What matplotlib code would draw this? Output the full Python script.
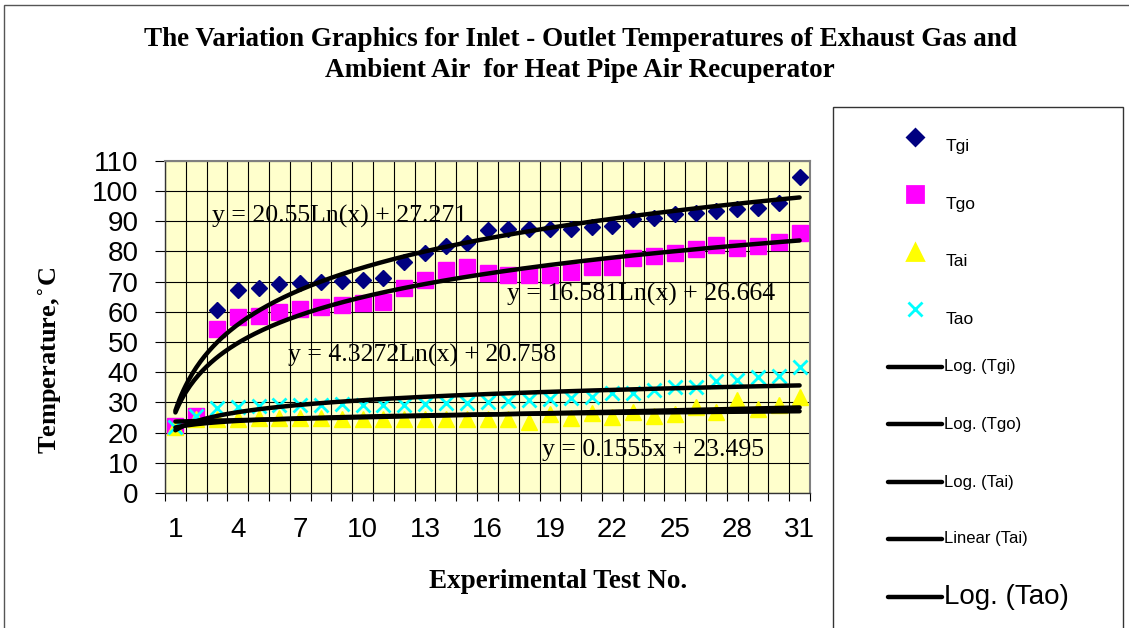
import numpy as np
import matplotlib
matplotlib.use("Agg")
import matplotlib.pyplot as plt
from matplotlib.lines import Line2D
from matplotlib.patches import Rectangle

# Test numbers and measured temperatures (C)
tests = list(range(1, 32))
tgi = [22.0, 25.0, 60.6, 67.2, 67.8, 69.2, 69.6, 69.9, 70.3, 70.5, 71.2, 76.5, 79.3, 81.9, 82.9, 87.2,
       87.3, 87.4, 87.5, 87.4, 88.2, 88.4, 90.8, 91.0, 92.2, 92.8, 93.3, 94.1, 94.5, 95.9, 104.5]
tgo = [22.3, 25.5, 54.2, 58.2, 58.7, 60.0, 60.8, 61.5, 62.3, 63.0, 63.3, 67.8, 70.5, 73.8, 74.9, 72.9,
       72.2, 72.0, 72.2, 73.3, 74.8, 74.9, 77.7, 78.3, 79.6, 80.7, 82.1, 81.0, 81.8, 83.2, 86.2]
tai = [22.0, 24.5, 24.5, 24.6, 24.8, 24.8, 24.8, 24.7, 24.6, 24.5, 24.4, 24.4, 24.5, 24.6, 24.4, 24.4,
       24.5, 23.6, 26.1, 24.7, 26.4, 25.3, 26.7, 25.5, 26.2, 28.6, 26.9, 30.9, 27.7, 29.1, 31.9]
tao = [22.0, 25.5, 28.0, 28.6, 28.9, 29.1, 29.1, 29.2, 29.4, 29.2, 29.1, 29.1, 29.5, 29.7, 29.9, 30.1,
       30.5, 30.8, 31.0, 31.6, 31.9, 33.0, 33.0, 34.1, 35.0, 35.0, 37.2, 37.4, 38.3, 38.7, 41.8]

# Trendline equations shown on the chart
log_tgi = (20.55, 27.271)
log_tgo = (16.581, 26.664)
log_tao = (4.3272, 20.758)
lin_tai = (0.1555, 23.495)

title = ("The Variation Graphics for Inlet - Outlet Temperatures of Exhaust Gas and\n"
         "Ambient Air  for Heat Pipe Air Recuperator")

W, H = 1129, 628
fig = plt.figure(figsize=(W / 100, H / 100), dpi=100)
fig.patch.set_facecolor("white")

def px(x, y):
    # pixel position -> figure fraction
    return x / W, 1 - y / H

ax = fig.add_axes([165 / W, 1 - 493 / H, (810 - 165) / W, (493 - 160.7) / H])
ax.set_facecolor("#FFFFCC")

x = np.array(tests, dtype=float)
ax.plot(x, tgi, ls="none", marker="D", ms=8, color="#000080", zorder=3)
ax.plot(x, tgo, ls="none", marker="s", ms=11, color="#FF00FF", zorder=3)
ax.plot(x, tai, ls="none", marker="^", ms=11, color="#FFFF00", zorder=3)
ax.plot(x, tao, ls="none", marker="x", ms=10, mew=2, color="#00FFFF", zorder=3)

# trendlines
xs = np.linspace(1, 31, 300)
fit_tai = np.polyfit(np.log(x), tai, 1)
trend_kw = dict(color="black", lw=3.2, solid_capstyle="round", zorder=4)
ax.plot(xs, log_tgi[0] * np.log(xs) + log_tgi[1], **trend_kw)
ax.plot(xs, log_tgo[0] * np.log(xs) + log_tgo[1], **trend_kw)
ax.plot(xs, fit_tai[0] * np.log(xs) + fit_tai[1], **trend_kw)
ax.plot(xs, lin_tai[0] * xs + lin_tai[1], **trend_kw)
ax.plot(xs, log_tao[0] * np.log(xs) + log_tao[1], **trend_kw)

eq_kw = dict(family="Liberation Serif", fontsize=18.5, ha="left", va="center", zorder=5)
ax.text(2.75, 91.7, f"y = {log_tgi[0]:g}Ln(x) + {log_tgi[1]:g}", **eq_kw)
ax.text(16.96, 65.6, f"y = {log_tgo[0]:g}Ln(x) + {log_tgo[1]:g}", **eq_kw)
ax.text(6.43, 45.4, f"y = {log_tao[0]:g}Ln(x) + {log_tao[1]:g}", **eq_kw)
ax.text(18.6, 14.2, f"y = {lin_tai[0]:g}x + {lin_tai[1]:g}", **eq_kw)

# axes
ax.set_xlim(0.5, 31.5)
ax.set_ylim(0, 110)
ax.set_yticks(range(0, 111, 10))
ax.set_xticks(tests[::3])
ax.set_xticks(np.arange(0.5, 32, 1), minor=True)
ax.grid(axis="y", which="major", color="black", lw=0.8)
ax.grid(axis="x", which="minor", color="black", lw=0.8)
ax.set_axisbelow(True)
ax.tick_params(axis="x", which="major", length=0, pad=17, labelsize=20)
ax.tick_params(axis="x", which="minor", length=6, width=0.8, direction="out")
ax.tick_params(axis="y", length=7, width=0.8, direction="out", labelsize=20, pad=12)
for lab in ax.get_xticklabels() + ax.get_yticklabels():
    lab.set_family("Liberation Sans")
for side in ("top", "right"):
    ax.spines[side].set_color("#808080")
    ax.spines[side].set_linewidth(1.5)
for side in ("left", "bottom"):
    ax.spines[side].set_color("#333333")
    ax.spines[side].set_linewidth(1)

# titles
fig.text(*px(580, 55), title, ha="center", va="center", family="Liberation Serif",
         weight="bold", fontsize=19.5, linespacing=1.3)
fig.text(*px(50, 360), "Temperature,$^{\\circ}$C", rotation=90, ha="center", va="center",
         family="Liberation Serif", weight="bold", fontsize=19)
fig.text(*px(558, 582), "Experimental Test No.", ha="center", va="center",
         family="Liberation Serif", weight="bold", fontsize=19.5)

# outer border and legend box
fig.patches.append(Rectangle(px(4, 640), 1140 / W, 635 / H, transform=fig.transFigure,
                             fill=False, ec="#555555", lw=1))
fig.patches.append(Rectangle(px(833, 640), (1123 - 833) / W, (640 - 107) / H,
                             transform=fig.transFigure, fill=False, ec="#333333", lw=1))

# legend entries
marker_entries = [
    ("Tgi", "D", 8, "#000080", 137, 147),
    ("Tgo", "s", 11, "#FF00FF", 194, 205),
    ("Tai", "^", 11, "#FFFF00", 252, 262),
    ("Tao", "x", 10, "#00FFFF", 309, 320),
]
for name, mk, ms, col, my, ty in marker_entries:
    mx, myf = px(915, my)
    fig.lines.append(Line2D([mx], [myf], marker=mk, ms=ms, mew=2, color=col, ls="none",
                            transform=fig.transFigure))
    fig.text(*px(946, ty), name, ha="left", va="center", family="Liberation Sans", fontsize=12.5)

line_entries = [
    ("Log. (Tgi)", 367, 12),
    ("Log. (Tgo)", 424, 12),
    ("Log. (Tai)", 482, 12),
    ("Linear (Tai)", 539, 12),
    ("Log. (Tao)", 597, 20),
]
for name, ly, fs in line_entries:
    x0, yf = px(888, ly)
    x1, _ = px(942, ly)
    fig.lines.append(Line2D([x0, x1], [yf, yf], color="black", lw=3.2, solid_capstyle="round",
                            transform=fig.transFigure))
    fig.text(*px(944, ly), name, ha="left", va="center", family="Liberation Sans", fontsize=fs)

fig.savefig("out.png", dpi=100)
